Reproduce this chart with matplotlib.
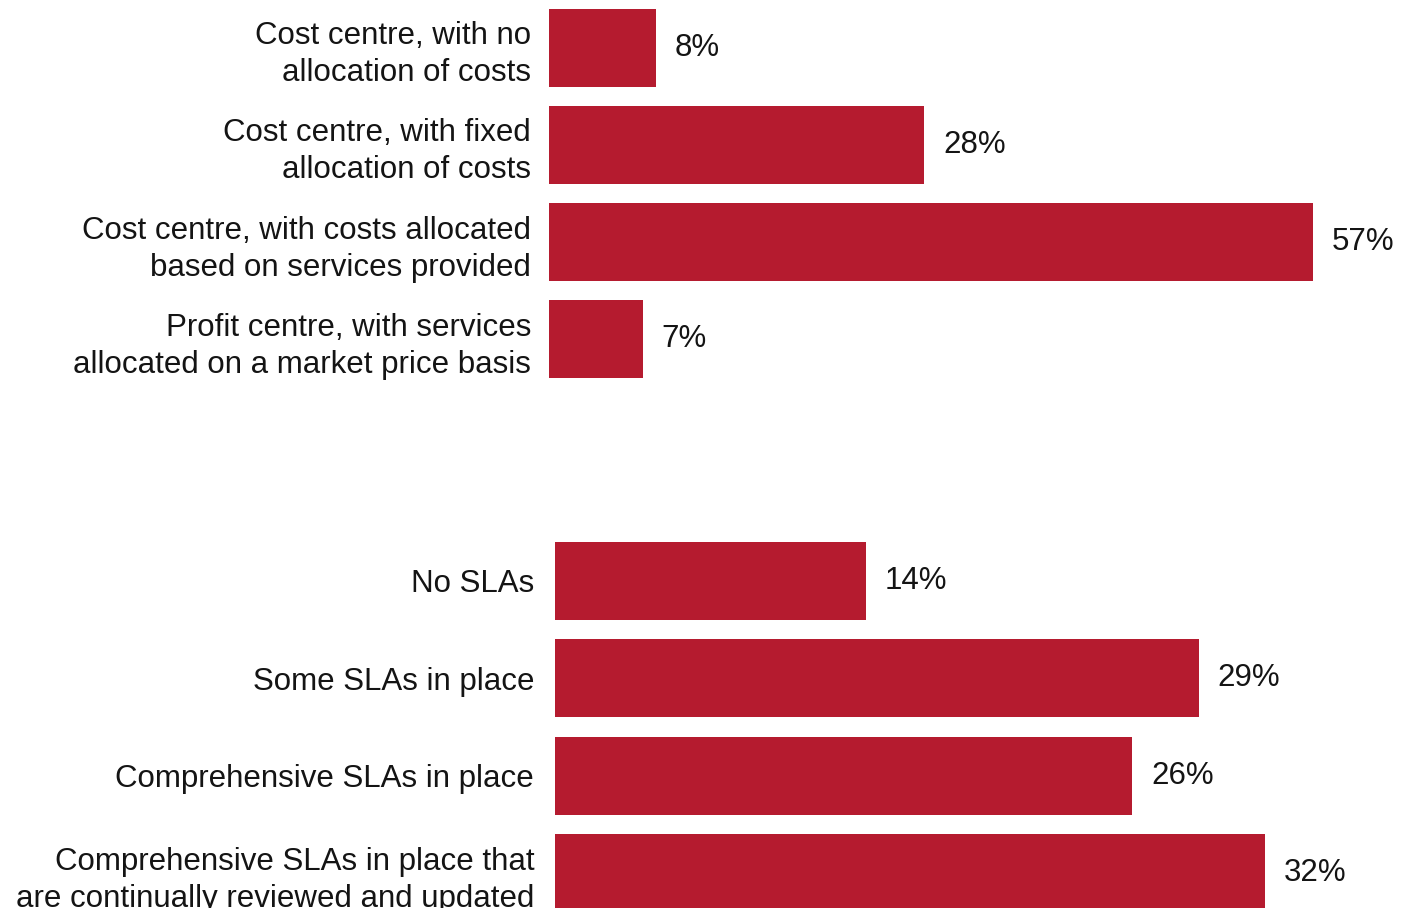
import matplotlib
matplotlib.use("Agg")
import matplotlib.pyplot as plt

# finance model of the IT function
model_labels = [
    "Cost centre, with no\nallocation of costs",
    "Cost centre, with fixed\nallocation of costs",
    "Cost centre, with costs allocated\nbased on services provided",
    "Profit centre, with services\nallocated on a market price basis",
]
model_values = [8, 28, 57, 7]

# service level agreements
sla_labels = [
    "No SLAs",
    "Some SLAs in place",
    "Comprehensive SLAs in place",
    "Comprehensive SLAs in place that\nare continually reviewed and updated",
]
sla_values = [14, 29, 26, 32]

BAR_RED = "#b51b2f"
TEXT = "#141414"

plt.rcParams["font.family"] = ["Liberation Sans", "DejaVu Sans"]

W, H = 1404, 908
fig = plt.figure(figsize=(W / 100, H / 100), dpi=100)


def panel(rect, labels, values, xmax, pad):
    ax = fig.add_axes(rect)
    y = list(range(len(values)))
    ax.barh(y, values, height=0.8, color=BAR_RED, edgecolor="none")
    ax.set_ylim(len(values) - 0.5, -0.5)
    ax.set_xlim(0, xmax)
    ax.set_yticks(y)
    ax.set_yticklabels(labels, fontsize=22.5, color=TEXT, linespacing=1.3)
    ax.tick_params(axis="y", length=0, pad=pad)
    ax.set_xticks([])
    for s in ax.spines.values():
        s.set_visible(False)
    for yi, v in zip(y, values):
        ax.annotate(f"{v}%", (v, yi), xytext=(13.5, 0), textcoords="offset points",
                    va="center", ha="left", fontsize=22.5, color=TEXT)
    return ax


# top panel: ~13.4 px per percent, bars start at x=549
left1 = 549
panel([left1 / W, (H - 388) / H, (W - left1) / W, 389 / H],
      model_labels, model_values, (W - left1) / 13.4, 13)

# bottom panel: ~22.2 px per percent, bars start at x=555
left2 = 555
panel([left2 / W, (H - 922) / H, (W - left2) / W, 390 / H],
      sla_labels, sla_values, (W - left2) / 22.2, 15)

fig.savefig("out.png", dpi=100)
